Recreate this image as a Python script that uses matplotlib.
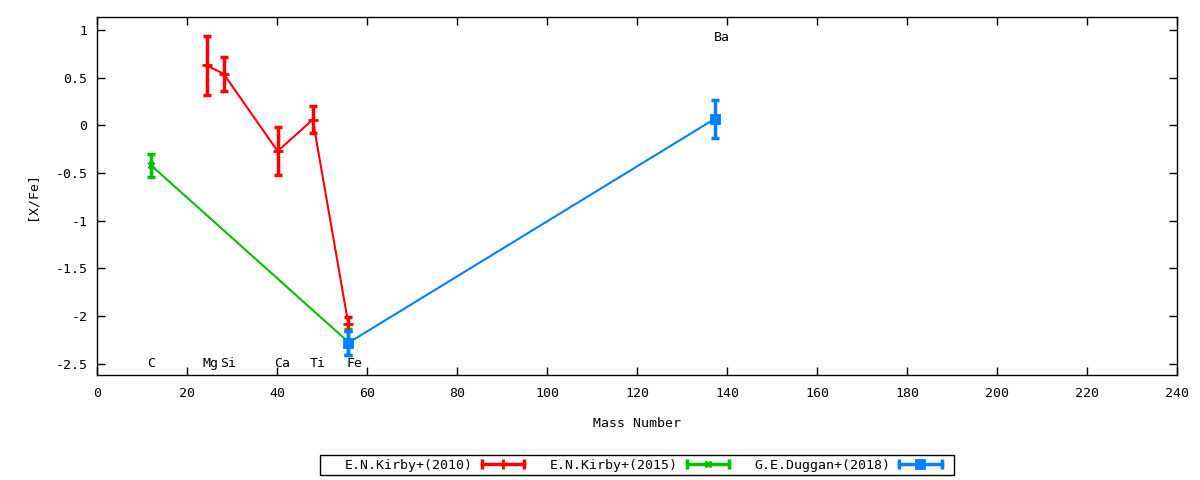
import matplotlib
matplotlib.use('Agg')
import matplotlib.pyplot as plt
from matplotlib.lines import Line2D
from matplotlib.patches import Rectangle
from matplotlib.legend_handler import HandlerBase
from matplotlib.ticker import MultipleLocator, FuncFormatter

plt.rcParams['font.family'] = ['DejaVu Sans Mono']
plt.rcParams['font.size'] = 9.5
plt.rcParams['axes.unicode_minus'] = False

# Kirby+ 2010: Mg, Si, Ca, Ti, Fe
kirby10_mass = [24.3, 28.1, 40.1, 47.9, 55.8]
kirby10_xfe = [0.63, 0.54, -0.27, 0.06, -2.08]
kirby10_err = [0.31, 0.18, 0.25, 0.14, 0.07]

# Kirby+ 2015: C, Fe
kirby15_mass = [12.0, 55.8]
kirby15_xfe = [-0.42, -2.27]
kirby15_err = [0.12, 0.14]

# Duggan+ 2018: Fe, Ba
duggan_mass = [55.8, 137.3]
duggan_xfe = [-2.28, 0.07]
duggan_err = [0.13, 0.20]

elem_names = ['C', 'Mg', 'Si', 'Ca', 'Ti', 'Fe', 'Ba']
elem_x = [11.2, 23.3, 27.3, 39.3, 47.3, 55.3, 137.0]
elem_y = [-2.5, -2.5, -2.5, -2.5, -2.5, -2.5, 0.92]


class ErrLineHandler(HandlerBase):
    # gnuplot-like sample: horizontal line with caps at both ends and the point in the middle
    def create_artists(self, legend, orig_handle, xdescent, ydescent,
                       width, height, fontsize, trans):
        y = height / 2 - ydescent
        x0, x1 = -xdescent, width - xdescent
        c = orig_handle.get_color()
        line = Line2D([x0, x1], [y, y], color=c, lw=2.5)
        caps = Line2D([x0, x1], [y, y], color=c, ls='none', marker='|',
                      markersize=7, mew=2.5)
        mid = Line2D([(x0 + x1) / 2], [y], color=c, ls='none',
                     marker=orig_handle.get_marker(),
                     markersize=orig_handle.get_markersize(), mew=2)
        for a in (line, caps, mid):
            a.set_transform(trans)
        return [line, caps, mid]


fig = plt.figure(figsize=(12, 4.8), dpi=100)
ax = fig.add_axes([0.081, 0.219, 0.9, 0.7456])

series = [
    (kirby10_mass, kirby10_xfe, kirby10_err, '#ff0000', '+', 7, 'E.N.Kirby+(2010)'),
    (kirby15_mass, kirby15_xfe, kirby15_err, '#00c000', 'x', 5, 'E.N.Kirby+(2015)'),
    (duggan_mass, duggan_xfe, duggan_err, '#0080ff', 's', 6, 'G.E.Duggan+(2018)'),
]
handles = []
labels = []
for mx, my, me, col, mk, ms, lab in series:
    ax.plot(mx, my, color=col, lw=1.5, zorder=2)
    ax.errorbar(mx, my, yerr=me, fmt='none', ecolor=col, elinewidth=2.5,
                capsize=2.6, capthick=2.5, zorder=3)
    ax.plot(mx, my, ls='none', marker=mk, color=col, markersize=ms, mew=2, zorder=4)
    handles.append(Line2D([], [], color=col, marker=mk, markersize=ms))
    labels.append(lab)

for name, x, y in zip(elem_names, elem_x, elem_y):
    ax.text(x, y, name, ha='left', va='center')

ax.set_xlim(0, 240)
ax.set_ylim(-2.615, 1.136)
ax.xaxis.set_major_locator(MultipleLocator(20))
ax.yaxis.set_major_locator(MultipleLocator(0.5))
ax.yaxis.set_major_formatter(FuncFormatter(lambda v, p: '%g' % v))
ax.tick_params(direction='in', length=6, width=1, top=True, right=True)
ax.tick_params(axis='x', pad=9)
ax.tick_params(axis='y', pad=7)
for s in ax.spines.values():
    s.set_linewidth(1)

ax.set_xlabel('Mass Number', labelpad=12)
ax.set_ylabel('[X/Fe]', labelpad=12)

# legend: text first, sample after (gnuplot style), box drawn by hand
leg = fig.legend(handles, labels, handler_map={Line2D: ErrLineHandler()},
                 ncol=3, loc='center left', bbox_to_anchor=(345 / 1200, 0.031),
                 markerfirst=False, frameon=False, handlelength=3.2,
                 columnspacing=1.9, handletextpad=0.7, borderpad=0,
                 borderaxespad=0)
fig.patches.append(Rectangle((320 / 1200, 5 / 480), 634 / 1200, 20 / 480,
                             transform=fig.transFigure, fill=False,
                             edgecolor='black', lw=1))

plt.savefig('out.png', dpi=100)
